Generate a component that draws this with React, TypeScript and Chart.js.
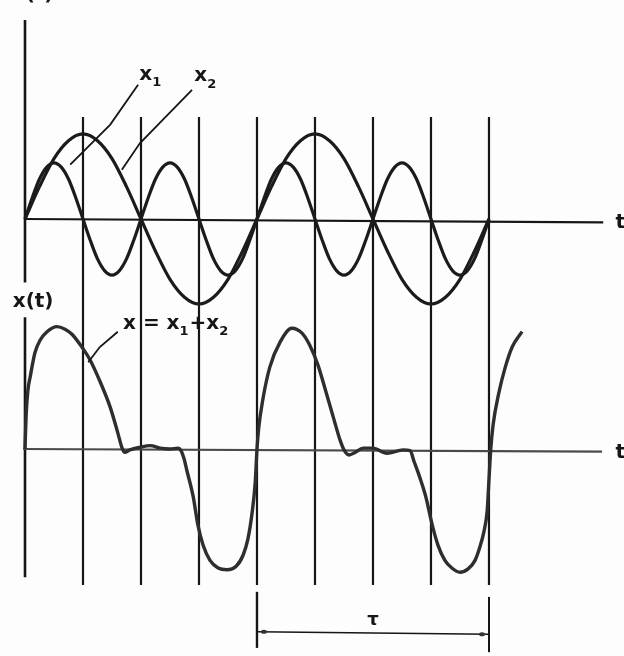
import React, { useEffect, useRef } from 'react';
import { Chart, registerables } from 'chart.js';

Chart.register(...registerables);

// time in grid intervals (one interval = a quarter period of the slower wave)
const T_QUARTER = [0, 0.25, 0.5, 0.75, 1, 1.25, 1.5, 1.75, 2, 2.25, 2.5, 2.75, 3, 3.25, 3.5, 3.75, 4,
  4.25, 4.5, 4.75, 5, 5.25, 5.5, 5.75, 6, 6.25, 6.5, 6.75, 7, 7.25, 7.5, 7.75, 8];
// slower, larger wave (labelled x2)
const X2_VALUES = [0, 0.38, 0.71, 0.92, 1, 0.92, 0.71, 0.38, 0, -0.38, -0.71, -0.92, -1, -0.92, -0.71, -0.38, 0,
  0.38, 0.71, 0.92, 1, 0.92, 0.71, 0.38, 0, -0.38, -0.71, -0.92, -1, -0.92, -0.71, -0.38, 0];

const T_EIGHTH = [0, 0.125, 0.25, 0.375, 0.5, 0.625, 0.75, 0.875, 1, 1.125, 1.25, 1.375, 1.5, 1.625, 1.75, 1.875,
  2, 2.125, 2.25, 2.375, 2.5, 2.625, 2.75, 2.875, 3, 3.125, 3.25, 3.375, 3.5, 3.625, 3.75, 3.875,
  4, 4.125, 4.25, 4.375, 4.5, 4.625, 4.75, 4.875, 5, 5.125, 5.25, 5.375, 5.5, 5.625, 5.75, 5.875,
  6, 6.125, 6.25, 6.375, 6.5, 6.625, 6.75, 6.875, 7, 7.125, 7.25, 7.375, 7.5, 7.625, 7.75, 7.875, 8];
// faster, smaller wave (labelled x1)
const X1_VALUES = [0, 0.25, 0.47, 0.61, 0.66, 0.61, 0.47, 0.25, 0, -0.25, -0.47, -0.61, -0.66, -0.61, -0.47, -0.25,
  0, 0.25, 0.47, 0.61, 0.66, 0.61, 0.47, 0.25, 0, -0.25, -0.47, -0.61, -0.66, -0.61, -0.47, -0.25,
  0, 0.25, 0.47, 0.61, 0.66, 0.61, 0.47, 0.25, 0, -0.25, -0.47, -0.61, -0.66, -0.61, -0.47, -0.25,
  0, 0.25, 0.47, 0.61, 0.66, 0.61, 0.47, 0.25, 0, -0.25, -0.47, -0.61, -0.66, -0.61, -0.47, -0.25, 0];

// resulting signal x(t)
const SUM_T = [0, 0.02, 0.05, 0.09, 0.17, 0.26, 0.38, 0.55, 0.69, 0.81, 0.98, 1.12, 1.29, 1.47, 1.6, 1.67, 1.72,
  1.81, 1.98, 2.16, 2.33, 2.5, 2.64,
  2.69, 2.74, 2.79, 2.9, 2.98, 3.07, 3.19, 3.33, 3.48, 3.64, 3.76, 3.84, 3.91, 3.97, 4.0,
  4.03, 4.1, 4.22, 4.4, 4.6, 4.78, 4.91, 5.05, 5.19, 5.33, 5.43, 5.5, 5.59, 5.69, 5.83, 6.0, 6.24, 6.52, 6.64,
  6.71, 6.81, 6.91, 7.02, 7.12, 7.24, 7.36, 7.5, 7.64, 7.76, 7.84, 7.91, 7.97, 8.0, 8.03,
  8.07, 8.17, 8.28, 8.4, 8.57];
const SUM_VALUES = [0, 0.4, 0.69, 0.85, 1.13, 1.28, 1.38, 1.44, 1.41, 1.35, 1.2, 1.05, 0.8, 0.49, 0.19, 0.02, -0.04,
  -0.01, 0.02, 0.04, 0.01, 0, 0.01,
  -0.02, -0.11, -0.25, -0.56, -0.89, -1.13, -1.31, -1.4, -1.42, -1.38, -1.25, -1.07, -0.78, -0.39, 0,
  0.25, 0.58, 0.96, 1.26, 1.42, 1.36, 1.22, 0.99, 0.67, 0.34, 0.11, -0.01, -0.07, -0.04, 0.01, 0.01, -0.05, -0.01, -0.02,
  -0.15, -0.34, -0.56, -0.89, -1.13, -1.31, -1.4, -1.45, -1.41, -1.31, -1.16, -0.98, -0.72, -0.36, -0.01,
  0.28, 0.66, 0.96, 1.2, 1.38];

const GRID_T = [1, 2, 3, 4, 5, 6, 7, 8];
const TAU_FROM = 4;
const TAU_TO = 8;

// scale ranges
const X_MIN = -0.431;
const X_MAX = 10.328;
const TOP_MIN = -5.141;
const TOP_MAX = 2.576;
const BOT_MIN = -2.435;
const BOT_MAX = 5.282;

const pts = (xs: number[], ys: number[]) => xs.map((x, i) => ({ x, y: ys[i] }));

const INK = '#161616';
const FONT = '"DejaVu Sans", "Liberation Sans", sans-serif';

const figurePlugin = {
  id: 'figure',
  beforeDraw(chart: any) {
    const { ctx, scales } = chart;
    const X = (v: number) => scales.x.getPixelForValue(v);
    const YT = (v: number) => scales.yTop.getPixelForValue(v);
    const YB = (v: number) => scales.yBot.getPixelForValue(v);
    ctx.save();
    ctx.fillStyle = '#fdfdfd';
    ctx.fillRect(0, 0, chart.width, chart.height);

    const seg = (x1: number, y1: number, x2: number, y2: number, w: number, c = INK) => {
      ctx.beginPath();
      ctx.strokeStyle = c;
      ctx.lineWidth = w;
      ctx.moveTo(x1, y1);
      ctx.lineTo(x2, y2);
      ctx.stroke();
    };
    // left axis (with gap for x(t) label)
    seg(X(0), YT(2.34), X(0), YB(1.96), 2.6);
    seg(X(0), YB(1.55), X(0), YB(-1.51), 2.6);
    // grid verticals
    GRID_T.forEach((t) => seg(X(t), YT(1.2), X(t), YB(-1.6), 2.2));
    // t axes
    seg(X(0), YT(0), X(9.97), YT(-0.04), 2.2);
    seg(X(-0.03), YB(0), X(9.95), YB(-0.03), 2.2, '#4a4a4a');
    ctx.restore();
  },
  afterDatasetsDraw(chart: any) {
    const { ctx, scales } = chart;
    const X = (v: number) => scales.x.getPixelForValue(v);
    const YT = (v: number) => scales.yTop.getPixelForValue(v);
    const YB = (v: number) => scales.yBot.getPixelForValue(v);
    ctx.save();
    const poly = (p: number[][], w: number) => {
      ctx.beginPath();
      ctx.strokeStyle = INK;
      ctx.lineWidth = w;
      p.forEach(([x, y], i) => (i ? ctx.lineTo(x, y) : ctx.moveTo(x, y)));
      ctx.stroke();
    };
    // leaders
    poly([[X(1.95), YT(1.58)], [X(1.47), YT(1.11)], [X(0.78), YT(0.64)]], 1.8);
    poly([[X(2.88), YT(1.52)], [X(1.98), YT(0.89)], [X(1.67), YT(0.58)]], 1.8);
    poly([[X(1.6), YB(1.38)], [X(1.29), YB(1.2)], [X(1.09), YB(1.02)]], 1.8);

    ctx.fillStyle = INK;
    ctx.textBaseline = 'middle';
    const big = `bold 20px ${FONT}`;
    const sub = `bold 13px ${FONT}`;
    const label = (x: number, y: number, parts: [string, boolean][]) => {
      let cx = x;
      ctx.textAlign = 'left';
      parts.forEach(([s, isSub]) => {
        ctx.font = isSub ? sub : big;
        ctx.fillText(s, cx, isSub ? y + 8 : y);
        cx += ctx.measureText(s).width + (isSub ? 1 : 0);
      });
    };
    label(X(1.97), YT(1.7), [['x', false], ['1', true]]);
    label(X(2.92), YT(1.68), [['x', false], ['2', true]]);
    label(X(1.69), YB(1.47), [['x = x', false], ['1', true], ['+x', false], ['2', true]]);

    ctx.font = `bold 20px ${FONT}`;
    ctx.textAlign = 'center';
    ctx.fillText('x(t)', X(0.14), YB(1.73));
    ctx.fillText('x(t)', X(0.14), YT(2.64));
    ctx.textAlign = 'left';
    ctx.fillText('t', X(10.18), YT(-0.04));
    ctx.fillText('t', X(10.18), YB(-0.05));

    // tau marker
    const seg = (x1: number, y1: number, x2: number, y2: number, w: number) => {
      ctx.beginPath();
      ctx.strokeStyle = INK;
      ctx.lineWidth = w;
      ctx.moveTo(x1, y1);
      ctx.lineTo(x2, y2);
      ctx.stroke();
    };
    seg(X(TAU_FROM), YB(-1.68), X(TAU_FROM), YB(-2.34), 2.4);
    seg(X(TAU_TO), YB(-1.74), X(TAU_TO), YB(-2.39), 2);
    seg(X(TAU_FROM), YB(-2.15), X(TAU_TO), YB(-2.18), 1.4);
    ctx.fillStyle = '#333';
    [[TAU_FROM + 0.12, -2.15], [TAU_TO - 0.12, -2.18]].forEach(([t, v]) => {
      ctx.beginPath();
      ctx.ellipse(X(t), YB(v), 3, 2, 0, 0, Math.PI * 2);
      ctx.fill();
    });
    ctx.fillStyle = INK;
    ctx.font = `bold 18px ${FONT}`;
    ctx.textAlign = 'center';
    ctx.fillText('τ', X((TAU_FROM + TAU_TO) / 2), YB(-2.01));
    ctx.restore();
  },
};

export default function App() {
  const ref = useRef<HTMLCanvasElement>(null);
  useEffect(() => {
    if (!ref.current) return;
    const line = { pointRadius: 0, fill: false, cubicInterpolationMode: 'monotone' as const };
    const chart = new Chart(ref.current, {
      type: 'line',
      data: {
        datasets: [
          { ...line, label: 'x2', data: pts(T_QUARTER, X2_VALUES), yAxisID: 'yTop', borderColor: '#1b1b1b', borderWidth: 3.2 },
          { ...line, label: 'x1', data: pts(T_EIGHTH, X1_VALUES), yAxisID: 'yTop', borderColor: '#1b1b1b', borderWidth: 3.2 },
          { ...line, label: 'x = x1+x2', data: pts(SUM_T, SUM_VALUES), yAxisID: 'yBot', borderColor: '#2e2e2e', borderWidth: 3.4 },
        ],
      },
      options: {
        responsive: false,
        animation: false,
        devicePixelRatio: 1,
        layout: { padding: 0 },
        plugins: { legend: { display: false }, tooltip: { enabled: false } },
        scales: {
          x: { type: 'linear', min: X_MIN, max: X_MAX, display: false },
          yTop: { type: 'linear', min: TOP_MIN, max: TOP_MAX, display: false, position: 'left' },
          yBot: { type: 'linear', min: BOT_MIN, max: BOT_MAX, display: false, position: 'left' },
        },
      },
      plugins: [figurePlugin],
    });
    return () => chart.destroy();
  }, []);
  return (
    <div style={{ position: 'fixed', left: 0, top: 0, width: 624, height: 656, background: '#fdfdfd' }}>
      <canvas ref={ref} width={624} height={656} style={{ display: 'block', width: 624, height: 656 }} />
    </div>
  );
}
